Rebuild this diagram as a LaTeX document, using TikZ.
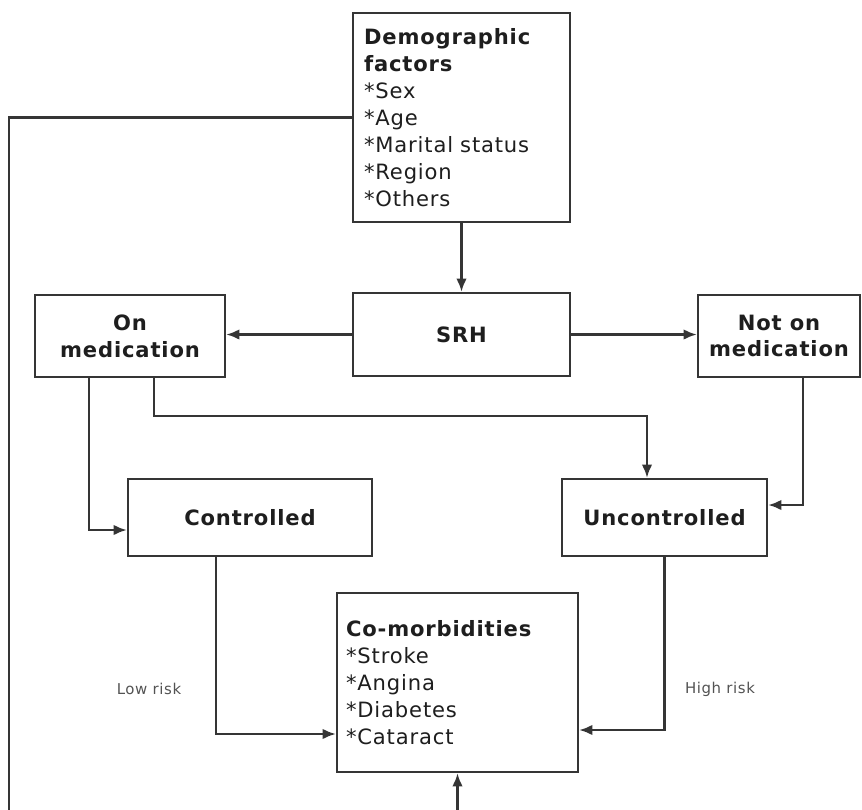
\documentclass[tikz,border=0pt]{standalone}
\usepackage{fontspec}
\setmainfont[LetterSpace=4]{DejaVu Sans}
\usetikzlibrary{arrows.meta}

\definecolor{linegray}{HTML}{353535}
\definecolor{textgray}{HTML}{1E1E1E}

\tikzset{
	box/.style={draw=linegray, line width=1.4pt, fill=white, inner sep=0pt,
		text=textgray, align=center, font=\bfseries\fontsize{12}{15.3}\selectfont},
	listbox/.style={box, align=left, font=\fontsize{12}{15.3}\selectfont},
	conn/.style={draw=linegray, line width=1.3pt, -{Latex[length=7.5pt,width=6pt]}},
	risk/.style={font=\fontsize{8.5}{10}\selectfont, text=linegray!85}
}

\begin{document}
\begin{tikzpicture}[x=0.02cm, y=-0.02cm]

\useasboundingbox (0,0) rectangle (862,809);
\clip (0,0) rectangle (862,809);

% boxes
\node[listbox, minimum width=4.34cm, minimum height=4.18cm, text width=3.9cm] (demo) at (461.5,117.5)
	{\textbf{Demographic}\\\textbf{factors}\\{}*Sex\\{}*Age\\{}*Marital status\\{}*Region\\{}*Others};
\node[box, minimum width=4.34cm, minimum height=1.66cm] (srh) at (461.5,334.5) {SRH};
\node[box, minimum width=3.8cm, minimum height=1.64cm] (onmed) at (130,336) {On\\medication};
\node[box, minimum width=3.24cm, minimum height=1.64cm] (notmed) at (779,336) {Not on\\medication};
\node[box, minimum width=4.88cm, minimum height=1.54cm] (ctrl) at (250,517.5) {Controlled};
\node[box, minimum width=4.1cm, minimum height=1.54cm] (unctrl) at (664.5,517.5) {Uncontrolled};
\node[listbox, minimum width=4.82cm, minimum height=3.58cm, text width=4.46cm] (comorb) at (457.5,682.5)
	{\textbf{Co-morbidities}\\{}*Stroke\\{}*Angina\\{}*Diabetes\\{}*Cataract};

% risk labels
\node[risk] (low) at (149,689) {Low risk};
\node[risk] (high) at (720,689) {High risk};

% connectors
\draw[conn] (demo.south) -- (srh.north);
\draw[conn] (srh.west) -- (srh.west -| onmed.east);
\draw[conn] (srh.east) -- (srh.east -| notmed.west);
\draw[conn] ([xshift=1.1cm]onmed.south west) |- ([yshift=-0.25cm]ctrl.west);
\draw[conn] ([xshift=2.4cm]onmed.south west) -- ++(0,-0.76cm) -| ([xshift=-0.35cm]unctrl.north);
\draw[conn] ([xshift=0.48cm]notmed.south) |- ([yshift=0.25cm]unctrl.east);
\draw[conn] ([xshift=-0.68cm]ctrl.south) |- ([yshift=-1.03cm]comorb.west);
\draw[conn] (unctrl.south) |- ([yshift=-0.95cm]comorb.east);
\draw[conn] (demo.west) -- (9,117.5) -- (9,840) -| (comorb.south);

\end{tikzpicture}
\end{document}
